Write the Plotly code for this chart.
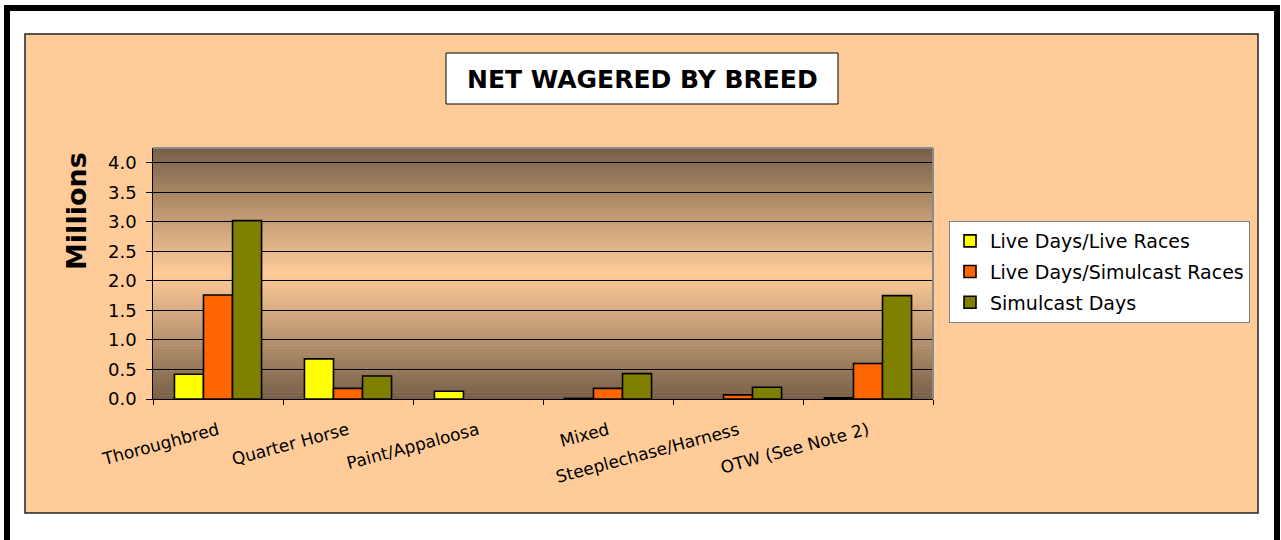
import plotly.graph_objects as go

# ---------------- data ----------------
categories = ["Thoroughbred", "Quarter Horse", "Paint/Appaloosa", "Mixed",
              "Steeplechase/Harness", "OTW (See Note 2)"]
series_names = ["Live Days/Live Races", "Live Days/Simulcast Races", "Simulcast Days"]
# None = no bar drawn (zero)
live_days_live_races = [0.42, 0.68, 0.13, 0.01, None, 0.02]
live_days_simulcast_races = [1.76, 0.18, None, 0.18, 0.07, 0.60]
simulcast_days = [3.02, 0.39, None, 0.43, 0.20, 1.75]
y_tick_values = [0.0, 0.5, 1.0, 1.5, 2.0, 2.5, 3.0, 3.5, 4.0]
y_tick_labels = ["0.0", "0.5", "1.0", "1.5", "2.0", "2.5", "3.0", "3.5", "4.0"]
title_text = "NET WAGERED BY BREED"
y_title = "Millions"

# ---------------- styling / layout ----------------
W, H = 1281, 540
PL, PR, PT, PB = 153, 933, 148, 399
FONT = "DejaVu Sans"
colors = ["#FFFF00", "#FF6600", "#808000"]


def px_x(px):
    return (px - PL) / (PR - PL)


def px_y(py):
    return (PB - py) / (PB - PT)


fig = go.Figure()
for name, vals, col in zip(series_names,
                           [live_days_live_races, live_days_simulcast_races, simulcast_days],
                           colors):
    fig.add_trace(go.Bar(
        x=categories, y=vals, name=name,
        marker=dict(color=col, line=dict(color="black", width=1.6)),
        legendgroup=name,
    ))

shapes = []
# outer thick black frame
shapes.append(dict(type="rect", xref="paper", yref="paper",
                   x0=px_x(7), x1=px_x(1277), y0=px_y(600), y1=px_y(8),
                   line=dict(color="black", width=6), fillcolor="white", layer="below"))
# peach chart area
shapes.append(dict(type="rect", xref="paper", yref="paper",
                   x0=px_x(25), x1=px_x(1258), y0=px_y(513), y1=px_y(34),
                   line=dict(color="#222222", width=1.5), fillcolor="#FFCC99", layer="below"))

# gradient plot background (dark - light - dark)
dark = (0x76, 0x5F, 0x48)
light = (0xFF, 0xCC, 0x99)
N = 80
for i in range(N):
    t = (i + 0.5) / N
    f = 1 - abs(2 * t - 1)
    c = tuple(round(dark[k] + (light[k] - dark[k]) * f) for k in range(3))
    shapes.append(dict(type="rect", xref="x domain", yref="y domain",
                       x0=0, x1=1, y0=i / N, y1=(i + 1) / N + 0.002,
                       line=dict(width=0), fillcolor="rgb(%d,%d,%d)" % c, layer="below"))
# plot-area border top & right (gray)
shapes.append(dict(type="line", xref="x domain", yref="y domain", x0=0, x1=1, y0=1, y1=1,
                   line=dict(color="#8a8a8a", width=2), layer="above"))
shapes.append(dict(type="line", xref="x domain", yref="y domain", x0=1, x1=1, y0=0, y1=1,
                   line=dict(color="#8a8a8a", width=2), layer="above"))
# title box
shapes.append(dict(type="rect", xref="paper", yref="paper",
                   x0=px_x(446), x1=px_x(838), y0=px_y(104), y1=px_y(53),
                   line=dict(color="black", width=1), fillcolor="white", layer="above"))

annotations = [
    dict(text="<b>%s</b>" % title_text, xref="paper", yref="paper",
         x=px_x(642), y=px_y(79), xanchor="center", yanchor="middle", showarrow=False,
         font=dict(family=FONT, size=25, color="black")),
    dict(text="<b>%s</b>" % y_title, xref="paper", yref="paper",
         x=px_x(76), y=px_y(211), xanchor="center", yanchor="middle", showarrow=False,
         textangle=-90, font=dict(family=FONT, size=27, color="black")),
]

fig.update_layout(
    width=W, height=H,
    margin=dict(l=PL, r=W - PR, t=PT, b=H - PB, pad=0),
    paper_bgcolor="white", plot_bgcolor="rgba(0,0,0,0)",
    barmode="group", bargap=0.33, bargroupgap=0,
    shapes=shapes, annotations=annotations,
    showlegend=True,
    legend=dict(x=px_x(949), y=px_y(221), xanchor="left", yanchor="top",
                bgcolor="white", bordercolor="#808080", borderwidth=1,
                font=dict(family=FONT, size=19, color="black"),
                traceorder="grouped", tracegroupgap=3),
    font=dict(family=FONT, color="black"),
)
fig.update_xaxes(type="category", showline=True, linecolor="black", linewidth=1,
                 ticks="outside", tickson="boundaries", ticklen=5, tickcolor="black",
                 tickangle=-15, tickfont=dict(family=FONT, size=17, color="black"),
                 ticklabelstandoff=14,
                 showgrid=False, zeroline=False)
fig.update_yaxes(range=[0, 4.25], tickvals=y_tick_values,
                 ticktext=[lab + "\u00a0" for lab in y_tick_labels],
                 showgrid=True, gridcolor="black", gridwidth=1,
                 showline=True, linecolor="black", linewidth=1,
                 ticks="outside", ticklen=6, tickcolor="black",
                 tickfont=dict(family=FONT, size=18, color="black"), zeroline=False)

fig.write_html("out.html", config={"displayModeBar": False},
               post_script="document.body.style.margin='0';")
